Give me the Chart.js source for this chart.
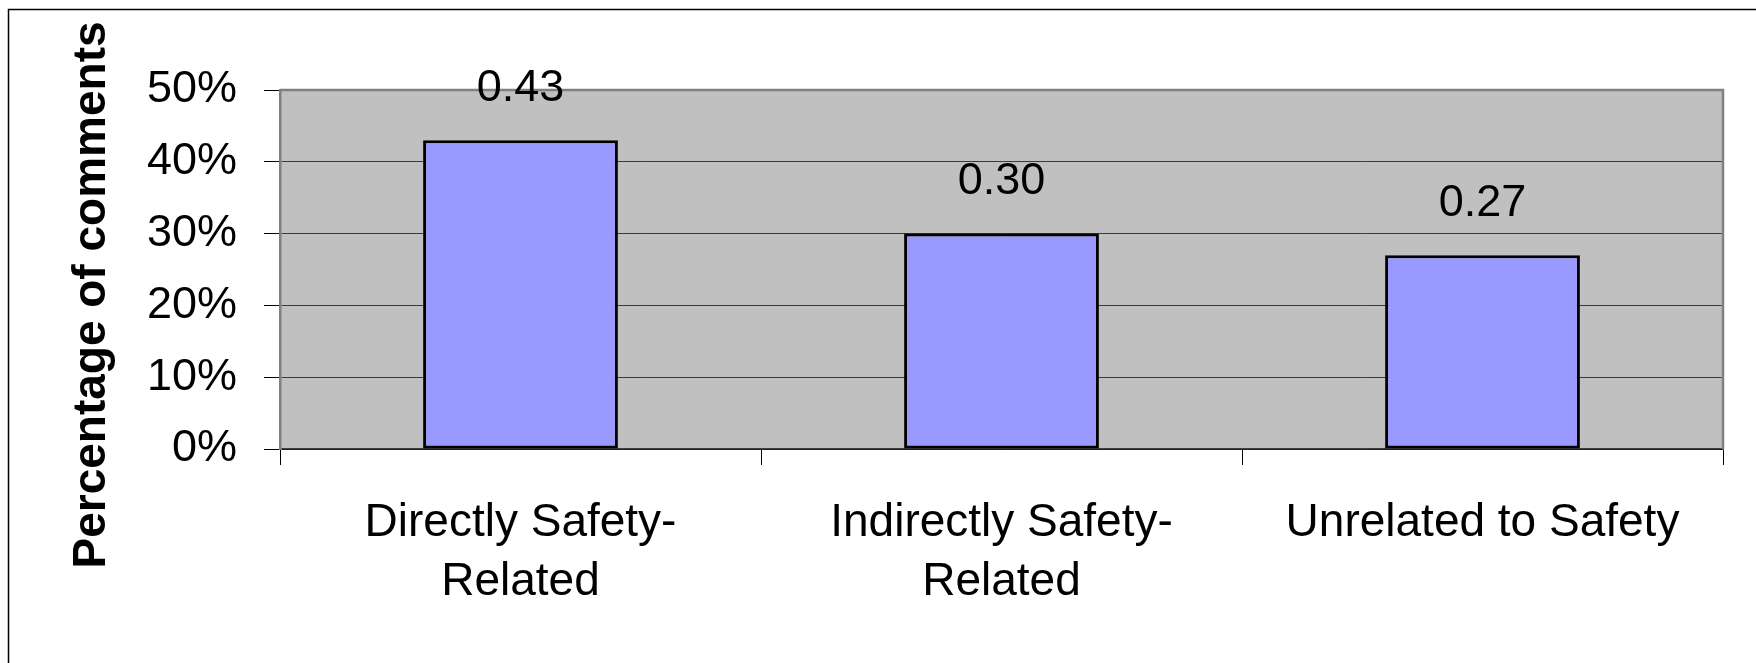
<!DOCTYPE html>
<html lang="en">
<head>
  <meta charset="UTF-8">
  <title>Percentage of comments</title>
  <style>
    body {
      margin: 0;
      background: #ffffff;
    }
    #chartBox {
      width: 1756px;
      height: 663px;
    }
  </style>
</head>
<body>
  <div id="chartBox">
    <canvas id="commentsChart"></canvas>
  </div>

  <script src="https://cdn.jsdelivr.net/npm/chart.js@4"></script>
  <script>
    const categories = [['Directly Safety-', 'Related'], ['Indirectly Safety-', 'Related'], 'Unrelated to Safety'];
    const shares = [0.43, 0.30, 0.27];
    const axisTitle = 'Percentage of comments';

    const fontFamily = '"Liberation Sans", Arial, sans-serif';

    // grey plot background, frame, top/right plot border and the y title
    const decorations = {
      id: 'decorations',
      beforeDraw(chart) {
        const { ctx, chartArea: a } = chart;
        ctx.save();
        ctx.fillStyle = '#c0c0c0';
        ctx.fillRect(a.left, a.top, a.right - a.left, a.bottom - a.top);
        ctx.strokeStyle = '#000000';
        ctx.lineWidth = 1.5;
        ctx.beginPath();
        ctx.moveTo(8.5, chart.height);
        ctx.lineTo(8.5, 9.5);
        ctx.lineTo(chart.width, 9.5);
        ctx.stroke();

        // axis title sits a bit lower than the plot centre in the original
        ctx.translate(92, 295);
        ctx.rotate(-Math.PI / 2);
        ctx.font = 'bold 46px ' + fontFamily;
        ctx.fillStyle = '#000000';
        ctx.textAlign = 'center';
        ctx.textBaseline = 'middle';
        ctx.fillText(axisTitle, 0, 0);
        ctx.restore();
      },
      beforeDatasetsDraw(chart) {
        const { ctx, chartArea: a } = chart;
        ctx.save();
        ctx.strokeStyle = '#808080';
        ctx.lineWidth = 2.5;
        ctx.beginPath();
        ctx.moveTo(a.left, a.top);
        ctx.lineTo(a.right, a.top);
        ctx.lineTo(a.right, a.bottom);
        ctx.stroke();
        ctx.restore();
      }
    };

    // value labels above each bar
    const valueLabels = {
      id: 'valueLabels',
      afterDatasetsDraw(chart) {
        const { ctx } = chart;
        const meta = chart.getDatasetMeta(0);
        ctx.save();
        ctx.font = '45px ' + fontFamily;
        ctx.fillStyle = '#000000';
        ctx.textAlign = 'center';
        ctx.textBaseline = 'middle';
        meta.data.forEach((bar, i) => {
          ctx.fillText(shares[i].toFixed(2), bar.x, bar.y - 52);
        });
        ctx.restore();
      }
    };

    new Chart(document.getElementById('commentsChart'), {
      type: 'bar',
      data: {
        labels: categories,
        datasets: [{
          data: shares,
          backgroundColor: '#9999ff',
          borderColor: '#000000',
          borderWidth: 3,
          borderSkipped: false,
          barPercentage: 0.405,
          categoryPercentage: 1
        }]
      },
      options: {
        responsive: true,
        maintainAspectRatio: false,
        animation: false,
        layout: {
          padding: { top: 90, right: 33, left: 0, bottom: 0 }
        },
        plugins: {
          legend: { display: false },
          tooltip: { enabled: false }
        },
        scales: {
          x: {
            grid: {
              drawOnChartArea: false,
              drawTicks: true,
              tickLength: 16,
              color: '#000000',
              lineWidth: 1
            },
            border: { color: '#404040', width: 1.5 },
            ticks: {
              color: '#000000',
              padding: 28,
              maxRotation: 0,
              autoSkip: false,
              font: { family: fontFamily, size: 46, lineHeight: 1.3 }
            },
            afterFit(scale) {
              scale.height = 214;
            }
          },
          y: {
            min: 0,
            max: 0.5,
            ticks: {
              stepSize: 0.1,
              color: '#000000',
              padding: 27,
              font: { family: fontFamily, size: 45 },
              callback: v => Math.round(v * 100) + '%'
            },
            grid: {
              color: ctx => ctx.tick && ctx.tick.value === 0 ? '#000000' : '#3a3a3a',
              lineWidth: 1,
              tickLength: 16,
              tickColor: '#000000'
            },
            border: { color: '#808080', width: 2.5 },
            afterFit(scale) {
              scale.width = 280;
            }
          }
        }
      },
      plugins: [decorations, valueLabels]
    });
  </script>
</body>
</html>
